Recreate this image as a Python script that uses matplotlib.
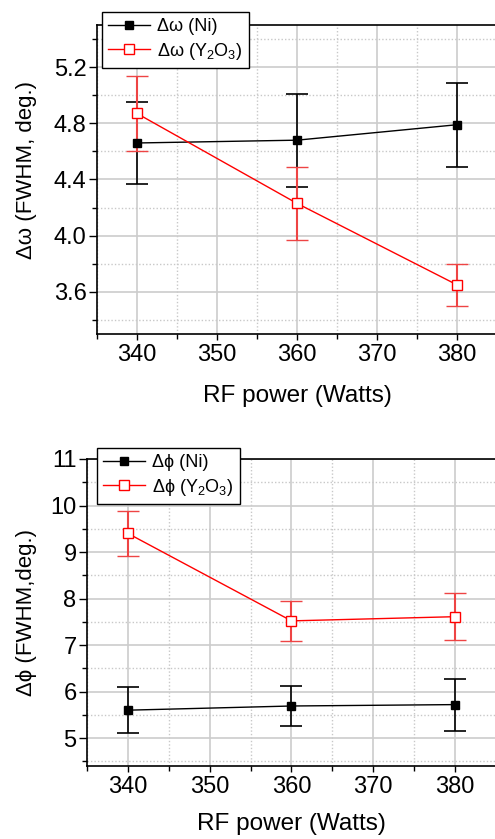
import matplotlib
matplotlib.use("Agg")
import matplotlib.pyplot as plt
from matplotlib.ticker import MultipleLocator

plt.rcParams['font.family'] = ['Liberation Sans', 'DejaVu Sans']
plt.rcParams['mathtext.fontset'] = 'custom'
plt.rcParams['mathtext.rm'] = 'Liberation Sans'
plt.rcParams['mathtext.default'] = 'regular'

# ---- data ----
power = [340, 360, 380]

omega_ni = [4.66, 4.68, 4.79]
omega_ni_err = [0.29, 0.33, 0.30]
omega_y2o3 = [4.87, 4.23, 3.65]
omega_y2o3_err = [0.27, 0.26, 0.15]

phi_ni = [5.60, 5.69, 5.72]
phi_ni_err = [0.50, 0.42, 0.56]
phi_y2o3 = [9.40, 7.52, 7.61]
phi_y2o3_err = [0.48, 0.43, 0.50]

x_ticks = [340, 350, 360, 370, 380]
top_yticks = [3.6, 4.0, 4.4, 4.8, 5.2]
bot_yticks = [5, 6, 7, 8, 9, 10, 11]

W, H = 495, 839
fig = plt.figure(figsize=(W / 100, H / 100), dpi=100)

def px_axes(l, t, r, b):
    return fig.add_axes([l / W, 1 - b / H, (r - l) / W, (b - t) / H])

ax1 = px_axes(97, 25, 497, 334)
ax2 = px_axes(87, 459, 496, 766)

def style(ax, ylim, yticks, yminor, ylabel):
    ax.set_xlim(335, 385)
    ax.set_ylim(*ylim)
    ax.set_xticks(x_ticks)
    ax.xaxis.set_minor_locator(MultipleLocator(5))
    ax.set_yticks(yticks)
    ax.yaxis.set_minor_locator(MultipleLocator(yminor))
    ax.grid(which='major', color='#cccccc', linewidth=1.2, linestyle='-')
    ax.grid(which='minor', color='#c8c8c8', linewidth=1.0, linestyle=(0, (1, 1.5)))
    ax.set_axisbelow(True)
    for s in ['left', 'bottom', 'top']:
        ax.spines[s].set_linewidth(1.2)
        ax.spines[s].set_color('black')
    ax.spines['right'].set_visible(False)
    ax.tick_params(axis='x', which='major', direction='out', length=4, width=1.0,
                   labelsize=17, pad=3)
    ax.tick_params(axis='x', which='minor', direction='out', length=3.5, width=1.0)
    ax.tick_params(axis='y', which='major', direction='out', length=6, width=1.0,
                   labelsize=17, pad=1.5)
    ax.tick_params(axis='y', which='minor', direction='out', length=3.5, width=1.0)
    ax.tick_params(top=False, right=False, which='both')
    ax.set_xlabel('RF power (Watts)', fontsize=17.5, labelpad=14)
    ax.set_ylabel(ylabel, fontsize=16)

style(ax1, (3.3, 5.5), top_yticks, 0.2, 'Δω (FWHM, deg.)')
ax1.set_yticklabels([f'{v:.1f}' for v in top_yticks])
style(ax2, (4.4, 11), bot_yticks, 0.5, 'Δϕ (FWHM,deg.)')
ax2.xaxis.labelpad = 11

def draw(ax, y_ni, e_ni, y_y, e_y, sym):
    ax.errorbar(power, y_ni, yerr=e_ni, color='black', lw=1.0, elinewidth=1.2,
                capsize=8, capthick=1.2, marker='s', ms=6, mfc='black', mec='black',
                label=f'Δ{sym} (Ni)', zorder=3)
    ax.errorbar(power, y_y, yerr=e_y, color='red', lw=1.0, elinewidth=1.5,
                ecolor='#ee4444', capsize=8, capthick=1.2, marker='s', ms=6.5,
                mfc='white', mec='red', mew=1.0,
                label=f'Δ{sym} (Y$_2$O$_3$)', zorder=3)

draw(ax1, omega_ni, omega_ni_err, omega_y2o3, omega_y2o3_err, 'ω')
draw(ax2, phi_ni, phi_ni_err, phi_y2o3, phi_y2o3_err, 'ϕ')

for ax, anchor in [(ax1, (102 / W, 1 - 12 / H)), (ax2, (97 / W, 1 - 448 / H))]:
    handles, labels = ax.get_legend_handles_labels()
    handles = [h[0] for h in handles]
    leg = ax.legend(handles, labels, loc='upper left', bbox_to_anchor=anchor,
                    bbox_transform=fig.transFigure, fontsize=13, frameon=True,
                    fancybox=False, edgecolor='black', framealpha=1,
                    handlelength=2.3, handletextpad=0.4, borderpad=0.35,
                    labelspacing=0.3, borderaxespad=0)
    leg.get_frame().set_linewidth(1.0)
    leg.set_zorder(10)
    leg.set_clip_on(False)

ax1.yaxis.set_label_coords((37 - 97) / 400, 0.53)
ax2.yaxis.set_label_coords((37 - 87) / 409, 0.5)

fig.savefig('out.png', dpi=100)
